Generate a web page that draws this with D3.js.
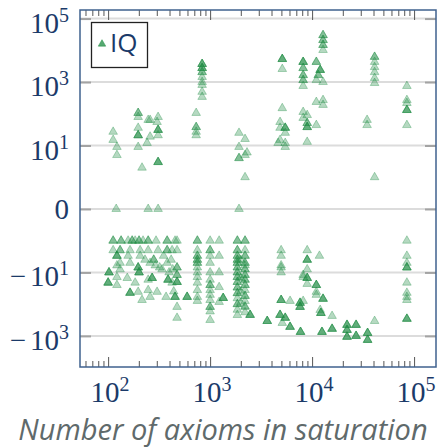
<!DOCTYPE html>
<html>
<head>
<meta charset="utf-8">
<script src="https://cdn.jsdelivr.net/npm/d3@7"></script>
<style>
  body { margin: 0; background: #fff; }
  svg { display: block; }
</style>
</head>
<body>
<div id="chart"></div>
<script>
// tick values and their labels
const xTicks = [1e2, 1e3, 1e4, 1e5];
const xTickExp = ["2", "3", "4", "5"];
const yTicks = [1e5, 1e3, 10, 0, -10, -1e3];
const yTickSign = ["", "", "", "", "\u2212", "\u2212"];
const yTickBase = ["10", "10", "10", "0", "10", "10"];
const yTickExp = ["5", "3", "1", "", "1", "3"];
const seriesName = "IQ";
const xTitle = "Number of axioms in saturation";

// [axioms, value, overlapping copies]
const upperPts = [
  [112, 27, 1], [112, 15, 1], [122, 9, 1], [122, 5, 1], [120, 0, 1],
  [197, 106, 2], [197, 79, 1], [197, 36, 1], [197, 21, 3], [197, 9, 1],
  [247, 64, 1], [241, 12, 1], [215, 2, 1], [247, 0, 1],
  [309, 79, 1], [302, 55, 1], [309, 31, 3], [309, 21, 1], [258, 64, 1], [258, 19, 1],
  [309, 3, 3], [309, 0, 1],
  [730, 106, 1], [730, 38, 2], [730, 27, 1], [730, 21, 1],
  [835, 3700, 3], [835, 2750, 3], [835, 2050, 2], [835, 1440, 1], [835, 1000, 1],
  [835, 810, 1], [835, 490, 1], [835, 340, 1],
  [1920, 25, 1], [2200, 16, 1], [1920, 9, 1], [2200, 5, 1], [2300, 6, 1], [1920, 4, 2],
  [2200, 1, 1], [1920, 0, 1],
  [5100, 5300, 3], [5100, 2570, 1],
  [5100, 150, 1], [4850, 55, 1], [4850, 36, 1], [5450, 36, 3], [5450, 25, 1],
  [4850, 15, 1], [5450, 12, 1], [4640, 12, 1], [5450, 9, 1],
  [12800, 30000, 2], [12800, 21000, 2], [12800, 14700, 2], [12800, 10200, 1],
  [8170, 4300, 3], [8170, 2750, 2], [8170, 1650, 2], [8170, 1150, 2], [8170, 750, 1],
  [11000, 4300, 2], [12000, 2400, 3], [11500, 1650, 2], [11000, 1150, 1], [12800, 1000, 1],
  [41000, 6200, 2], [41000, 4300, 1], [41000, 2950, 1], [41000, 2050, 1], [41000, 1340, 1], [41000, 930, 1],
  [85000, 750, 1], [85000, 270, 1], [85000, 218, 1], [85000, 131, 3], [85000, 44, 1],
  [11000, 235, 1], [12800, 270, 1], [12800, 190, 1],
  [8170, 114, 1], [8950, 91, 1], [8170, 74, 1], [8950, 51, 2], [8950, 38, 3], [11000, 44, 1],
  [34600, 64, 1], [34600, 44, 1], [8950, 13, 1], [41000, 1, 1]
];

const lowerLeftPts = [
  [112, -1, 2], [134, -1, 2], [157, -1, 1], [172, -1, 2], [184, -1, 1], [201, -1, 2],
  [220, -1, 1], [247, -1, 2], [295, -1, 1], [379, -1, 2], [453, -1, 1], [474, -1, 1], [750, -1, 2],
  [112, -2, 1], [131, -2, 2], [164, -2, 1], [206, -2, 1], [247, -2, 1], [309, -2, 1],
  [379, -2, 2], [424, -2, 1], [474, -2, 1], [750, -2, 1],
  [102, -10, 3], [100, -21, 3], [122, -14, 1], [122, -25, 1], [131, -5, 1], [122, -3, 3],
  [122, -6, 1], [131, -8, 1],
  [154, -15, 1], [164, -44, 3], [184, -21, 1], [197, -7, 3], [201, -10, 3], [215, -74, 1],
  [197, -41, 1], [164, -5, 1], [157, -3, 1],
  [247, -17, 1], [270, -15, 3], [247, -36, 1], [258, -59, 1], [302, -41, 1], [258, -5, 1], [290, -6, 1],
  [379, -5, 1], [396, -10, 1], [387, -17, 3], [424, -21, 1], [474, -20, 3], [453, -59, 3],
  [474, -122, 1], [474, -270, 1], [595, -59, 3], [370, -59, 1], [338, -8, 1],
  [206, -3, 1], [230, -4, 1], [280, -4, 2], [320, -7, 1], [350, -3, 1], [415, -4, 1],
  [430, -8, 1], [474, -7, 2], [474, -12, 2], [440, -40, 1],
  [750, -3, 2], [750, -4, 2], [750, -5, 2], [750, -7, 1], [750, -10, 1], [750, -14, 1],
  [750, -21, 1], [750, -36, 1], [750, -59, 1], [750, -79, 1]
];

const lowerMidPts = [
  [1000, -1, 1], [1000, -2, 2], [1000, -3, 1], [1000, -5, 1], [1000, -10, 1], [1000, -17, 1],
  [1000, -25, 2], [1000, -36, 1], [1000, -51, 1], [1000, -74, 1], [1000, -122, 2], [1000, -170, 1], [1000, -315, 1],
  [1226, -1, 1], [1226, -3, 1], [1226, -10, 1], [1226, -29, 1], [1343, -64, 3], [1226, -85, 1],
  [1850, -1, 2], [1850, -2, 2], [1850, -3, 2], [1850, -4, 2], [1850, -5, 2], [1850, -7, 2],
  [1850, -10, 2], [1850, -14, 2], [1850, -20, 2], [1850, -30, 2], [1850, -45, 2], [1850, -65, 1],
  [1850, -100, 2], [1850, -150, 1], [1850, -220, 1],
  [2200, -1, 2], [2200, -2, 1], [2200, -3, 2], [2200, -5, 2], [2200, -6, 1], [2200, -8, 2],
  [2200, -12, 2], [2200, -17, 2], [2200, -25, 2], [2200, -36, 1], [2200, -55, 2], [2200, -80, 1],
  [2200, -120, 2], [2200, -180, 1],
  [2000, -4, 1], [2000, -15, 1], [2000, -40, 1], [2000, -90, 1],
  [2466, -218, 3], [3630, -340, 3],
  [4970, -2, 1], [4970, -3, 1], [4970, -6, 1], [4970, -7, 1], [4970, -10, 1], [4970, -74, 3],
  [6080, -79, 1], [4850, -218, 3], [5450, -270, 3], [5100, -390, 1], [6080, -520, 3],
  [7700, -750, 3], [7620, -122, 3], [8170, -14, 1]
];

const lowerRightPts = [
  [85000, -1, 1], [85000, -3, 1], [85000, -5, 1], [85000, -7, 3], [85000, -21, 1],
  [85000, -44, 1], [85000, -59, 1], [85000, -74, 1], [85000, -290, 3],
  [8950, -2, 1], [8950, -4, 3], [11800, -3, 1], [8950, -8, 1], [8170, -12, 1], [8950, -15, 3],
  [8950, -23, 1], [11000, -25, 3], [11000, -41, 1], [11000, -51, 1], [12800, -68, 3],
  [8170, -79, 1], [7620, -91, 3], [12000, -152, 1], [12200, -190, 3], [15700, -235, 1],
  [12500, -750, 3], [15700, -600, 3], [22000, -450, 3], [22000, -650, 3], [22000, -1070, 3],
  [27000, -450, 3], [27000, -1000, 3], [35000, -810, 3], [35000, -1340, 3], [41000, -340, 1]
];

const width = 444, height = 448;
const plot = { left: 80, right: 436, top: 10, bottom: 367 };
const green = "#1d8c42";
const navy = "#1b3a69";

const svg = d3.select("#chart").append("svg")
  .attr("width", width)
  .attr("height", height);

// scales: log x, symmetric log y (linear between -1 and 1)
const x = d3.scaleLog().domain([53, 164000]).range([plot.left, plot.right]);
const symT = v => {
  const a = Math.abs(v);
  return Math.sign(v) * (a <= 1 ? a : 1 + Math.log10(a));
};
const yT = d3.scaleLinear().domain([-4.98, 6.27]).range([plot.bottom, plot.top]);
const y = v => yT(symT(v));

svg.append("clipPath").attr("id", "clip")
  .append("rect")
  .attr("x", plot.left).attr("y", plot.top)
  .attr("width", plot.right - plot.left)
  .attr("height", plot.bottom - plot.top);

// horizontal grid lines
svg.append("g")
  .selectAll("line")
  .data(yTicks)
  .enter().append("line")
  .attr("x1", plot.left).attr("x2", plot.right)
  .attr("y1", d => y(d)).attr("y2", d => y(d))
  .attr("stroke", "#dcdcdc")
  .attr("stroke-width", 2);

// y tick marks, inside on both sides
const yTickT = yTicks.map(symT);
[[d3.axisLeft, plot.left], [d3.axisRight, plot.right]].forEach(([ax, pos]) => {
  const g = svg.append("g")
    .attr("transform", "translate(" + pos + ",0)")
    .call(ax(yT).tickValues(yTickT).tickSize(-11).tickFormat(""));
  g.select(".domain").remove();
  g.selectAll(".tick line").attr("stroke", "#a3a3a3").attr("stroke-width", 2);
});

// x tick marks, major and minor, inside on bottom and top
const minorTicks = [];
for (let e = 1; e <= 5; e++) {
  for (let k = 2; k <= 9; k++) {
    const v = k * Math.pow(10, e);
    if (v > 53 && v < 164000) minorTicks.push(v);
  }
}
[[d3.axisBottom, plot.bottom], [d3.axisTop, plot.top]].forEach(([ax, pos]) => {
  [[xTicks, 10], [minorTicks, 6]].forEach(([vals, len]) => {
    const g = svg.append("g")
      .attr("transform", "translate(0," + pos + ")")
      .call(ax(x).tickValues(vals).tickSize(-len).tickFormat(""));
    g.select(".domain").remove();
    g.selectAll(".tick line").attr("stroke", "#555").attr("stroke-width", 1);
  });
});

// points
const allPts = upperPts.concat(lowerLeftPts, lowerMidPts, lowerRightPts)
  .flatMap(p => d3.range(p[2]).map(() => p));
const tri = d3.symbol(d3.symbolTriangle, 32);
svg.append("g")
  .attr("clip-path", "url(#clip)")
  .selectAll("path")
  .data(allPts)
  .enter().append("path")
  .attr("d", tri)
  .attr("transform", d => "translate(" + x(d[0]) + "," + y(d[1]) + ")")
  .attr("fill", green)
  .attr("fill-opacity", 0.33)
  .attr("stroke", green)
  .attr("stroke-opacity", 0.33)
  .attr("stroke-width", 1);

// frame
svg.append("rect")
  .attr("x", plot.left).attr("y", plot.top)
  .attr("width", plot.right - plot.left)
  .attr("height", plot.bottom - plot.top)
  .attr("fill", "none")
  .attr("stroke", "#3f618e")
  .attr("stroke-width", 1.5);

// y tick labels
const yLab = svg.append("g")
  .attr("font-family", "'Liberation Serif', 'DejaVu Serif', serif")
  .attr("fill", navy)
  .attr("text-anchor", "end");
yTicks.forEach((v, i) => {
  const t = yLab.append("text")
    .attr("x", 69)
    .attr("y", y(v) + (yTickExp[i] ? 14 : 10))
    .attr("font-size", 29);
  if (yTickSign[i]) t.append("tspan").text(yTickSign[i]);
  t.append("tspan").attr("dx", yTickSign[i] ? 4 : 0).text(yTickBase[i]);
  if (yTickExp[i]) {
    t.append("tspan").attr("font-size", 20).attr("dy", -11).text(yTickExp[i]);
  }
});

// x tick labels
const xLab = svg.append("g")
  .attr("font-family", "'Liberation Serif', 'DejaVu Serif', serif")
  .attr("fill", navy)
  .attr("text-anchor", "middle");
xTicks.forEach((v, i) => {
  const t = xLab.append("text")
    .attr("x", x(v) + 2)
    .attr("y", 402)
    .attr("font-size", 29);
  t.append("tspan").text("10");
  t.append("tspan").attr("font-size", 20).attr("dy", -11).text(xTickExp[i]);
});

// x axis title
svg.append("text")
  .attr("x", 223)
  .attr("y", 440)
  .attr("text-anchor", "middle")
  .attr("font-family", "'Open Sans', sans-serif")
  .attr("font-style", "italic")
  .attr("font-size", 29)
  .attr("fill", "#5f6a6b")
  .text(xTitle);

// legend
const leg = svg.append("g");
leg.append("rect")
  .attr("x", 91.5).attr("y", 22.5)
  .attr("width", 56).attr("height", 45)
  .attr("fill", "#fff")
  .attr("stroke", "#222")
  .attr("stroke-width", 1.3);
leg.append("path")
  .attr("d", d3.symbol(d3.symbolTriangle, 24))
  .attr("transform", "translate(102,44)")
  .attr("fill", green)
  .attr("fill-opacity", 0.75)
  .attr("stroke", green)
  .attr("stroke-opacity", 0.5);
leg.append("text")
  .attr("x", 110)
  .attr("y", 52)
  .attr("font-family", "'Open Sans', sans-serif")
  .attr("font-size", 26)
  .attr("fill", navy)
  .text(seriesName);
</script>
</body>
</html>
